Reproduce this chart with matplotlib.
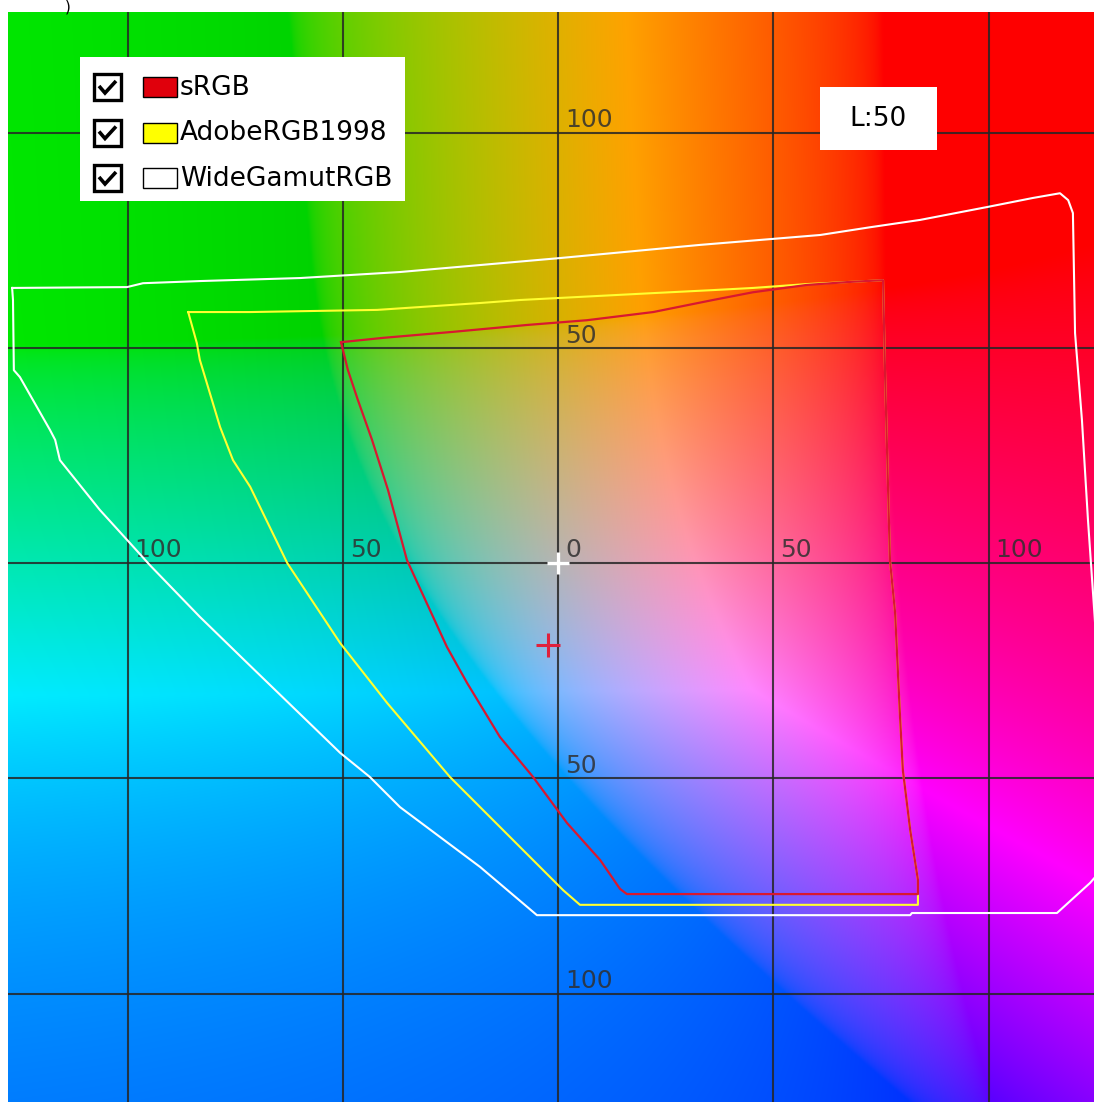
import numpy as np
import matplotlib
matplotlib.use("Agg")
import matplotlib.pyplot as plt
from matplotlib.patches import Rectangle

# ---------------- data (CIE a*, b* at L = 50) ----------------
L_value = 50
tick_values = [-100, -50, 0, 50, 100]
tick_labels = ["100", "50", "0", "50", "100"]

srgb_a = [-50.4, -40.7, -24.4, -7.2, 6.7, 22.1, 36.0, 45.3, 57.8, 67.8, 75.5, 76.0, 77.1, 78.3,
          79.4, 80.1, 81.8, 83.6, 83.6, 16.0, 14.4, 9.8, 2.1, -5.8, -13.5, -21.1, -25.8, -35.1,
          -39.5, -43.2, -46.5, -48.8, -50.4]
srgb_b = [51.3, 52.3, 53.7, 55.3, 56.4, 58.3, 61.1, 62.9, 64.6, 65.3, 65.7, 42.5, 0.7, -11.6,
          -34.8, -48.1, -62.0, -73.6, -76.9, -76.9, -75.7, -69.0, -60.4, -49.7, -40.4, -27.9,
          -19.5, 0.7, 17.0, 28.6, 37.9, 44.8, 51.3]

adobe_a = [-85.9, -71.5, -42.0, -18.1, -8.8, 22.1, 36.0, 45.3, 57.8, 67.8, 75.5, 76.0, 77.1,
           78.3, 79.4, 80.1, 81.8, 83.6, 83.6, 5.1, 1.2, -13.5, -25.1, -39.7, -50.6, -62.9,
           -71.5, -75.5, -78.5, -83.2, -83.9, -85.9]
adobe_b = [58.3, 58.3, 58.8, 60.4, 61.1, 62.7, 63.4, 63.9, 64.8, 65.3, 65.7, 42.5, 0.7, -11.6,
           -34.8, -48.1, -62.0, -73.6, -79.4, -79.4, -76.0, -61.3, -49.7, -32.5, -18.6, 0.0,
           17.7, 23.9, 31.6, 47.2, 51.1, 58.3]

wide_a = [-126.8, -100.1, -96.4, -83.2, -59.9, -36.7, 0.0, 33.0, 60.9, 72.5, 84.1, 99.7, 110.3,
          116.6, 118.5, 119.6, 120.1, 121.7, 123.1, 124.7, 128.2, 123.6, 115.9, 82.2, 81.8,
          -4.9, -18.1, -36.7, -43.7, -50.6, -72.2, -83.2, -94.8, -99.4, -106.4, -115.7, -116.8,
          -118.0, -125.0, -126.4, -126.6, -126.8]
wide_b = [63.9, 64.1, 65.0, 65.5, 66.2, 67.6, 70.8, 73.9, 76.2, 78.0, 79.7, 82.7, 84.8, 85.9,
          84.3, 81.3, 53.4, 33.2, 10.0, -13.2, -69.0, -74.3, -81.3, -81.3, -81.8, -81.8, -70.6,
          -56.7, -49.7, -44.1, -23.2, -12.5, -0.5, 4.6, 12.3, 23.9, 28.6, 30.9, 43.2, 44.8,
          61.1, 63.9]

white_point = (0.0, 0.0)
sample_point = (-2.3, -19.0)

legend_names = ["sRGB", "AdobeRGB1998", "WideGamutRGB"]
legend_fill = ["#e0000c", "#ffff00", "#ffffff"]
line_colors = ["#d81830", "#ffff30", "#ffffff"]

# ---------------- background colour field ----------------
def lab_to_display(L, a, b, gain=2.5):
    fy = (L + 16.0) / 116.0
    fx = fy + a / 500.0
    fz = fy - b / 200.0
    d = 6.0 / 29.0
    finv = lambda t: np.where(t > d, t ** 3, 3 * d * d * (t - 4.0 / 29.0))
    X = 0.95047 * finv(fx)
    Y = finv(fy) * np.ones_like(a)
    Z = 1.08883 * finv(fz)
    M = np.array([[3.2406, -1.5372, -0.4986],
                  [-0.9689, 1.8758, 0.0415],
                  [0.0557, -0.2040, 1.0570]])
    xyz = np.stack([X, Y, Z], axis=-1)
    rgb = np.clip((xyz @ M.T) * gain, 0, None)
    mx = rgb.max(axis=-1, keepdims=True)
    rgb = rgb / np.maximum(mx, 1.0)
    rgb = np.where(rgb <= 0.0031308, 12.92 * rgb, 1.055 * rgb ** (1 / 2.4) - 0.055)
    return np.clip(rgb, 0, 1)

xmin, xmax = -127.76, 124.5
ymin, ymax = -125.2, 128.0
aa = np.linspace(xmin, xmax, 500)
bb = np.linspace(ymax, ymin, 500)
A, B = np.meshgrid(aa, bb)
img = lab_to_display(L_value, A, B)

# ---------------- figure ----------------
W, H = 1094, 1102
fig = plt.figure(figsize=(W / 100, H / 100), dpi=100)
fig.patch.set_facecolor("white")
ax = fig.add_axes([8 / W, 0, 1086 / W, 1090 / H])
ax.imshow(img, extent=[xmin, xmax, ymin, ymax], origin="upper", aspect="auto",
          interpolation="bilinear", zorder=0)
ax.set_xlim(xmin, xmax)
ax.set_ylim(ymin, ymax)
ax.axis("off")

for v in tick_values:
    ax.axvline(v, color="#262626", lw=1.5, alpha=0.85, zorder=1)
    ax.axhline(v, color="#262626", lw=1.5, alpha=0.85, zorder=1)

for v, t in zip(tick_values, tick_labels):
    ax.text(v + 1.6, 1.4, t, ha="left", va="baseline", fontsize=18, color="#303030",
            alpha=0.85, zorder=2)
    if v != 0:
        ax.text(1.6, v + 1.2, t, ha="left", va="baseline", fontsize=18, color="#303030",
                alpha=0.85, zorder=2)

ax.plot(wide_a, wide_b, color=line_colors[2], lw=1.5, zorder=3)
ax.plot(adobe_a, adobe_b, color=line_colors[1], lw=1.5, zorder=4)
ax.plot(srgb_a, srgb_b, color=line_colors[0], lw=1.6, zorder=5)

ax.plot([white_point[0]], [white_point[1]], marker="+", ms=16, mew=2.4, color="white", zorder=6)
ax.plot([sample_point[0]], [sample_point[1]], marker="+", ms=17, mew=2.2, color="#e0203c", zorder=6)

# ---------------- overlay (legend, L box) in pixel coordinates ----------------
ov = fig.add_axes([0, 0, 1, 1], facecolor="none")
ov.set_xlim(0, W)
ov.set_ylim(H, 0)
ov.axis("off")

ov.add_patch(Rectangle((80, 57), 325, 144, facecolor="white", edgecolor="none"))
for i, (name, fc) in enumerate(zip(legend_names, legend_fill)):
    yc = 87 + 45.5 * i
    ov.add_patch(Rectangle((94, yc - 13), 27, 26, facecolor="white", edgecolor="black", lw=2.4))
    ov.plot([99, 105, 116], [yc - 1, yc + 6, yc - 6], color="black", lw=2.6,
            solid_capstyle="butt", solid_joinstyle="miter")
    ov.add_patch(Rectangle((143, yc - 10), 34, 20, facecolor=fc, edgecolor="black", lw=1.0))
    ov.text(180, yc + 1, name, ha="left", va="center", fontsize=19, color="black")

ov.add_patch(Rectangle((820, 87), 117, 63, facecolor="white", edgecolor="none"))
ov.text(878, 119, "L:%d" % L_value, ha="center", va="center", fontsize=19, color="black")

fig.text(65 / W, 1.0, ")", ha="left", va="top", fontsize=11, color="black")

fig.savefig("out.png", dpi=100)
